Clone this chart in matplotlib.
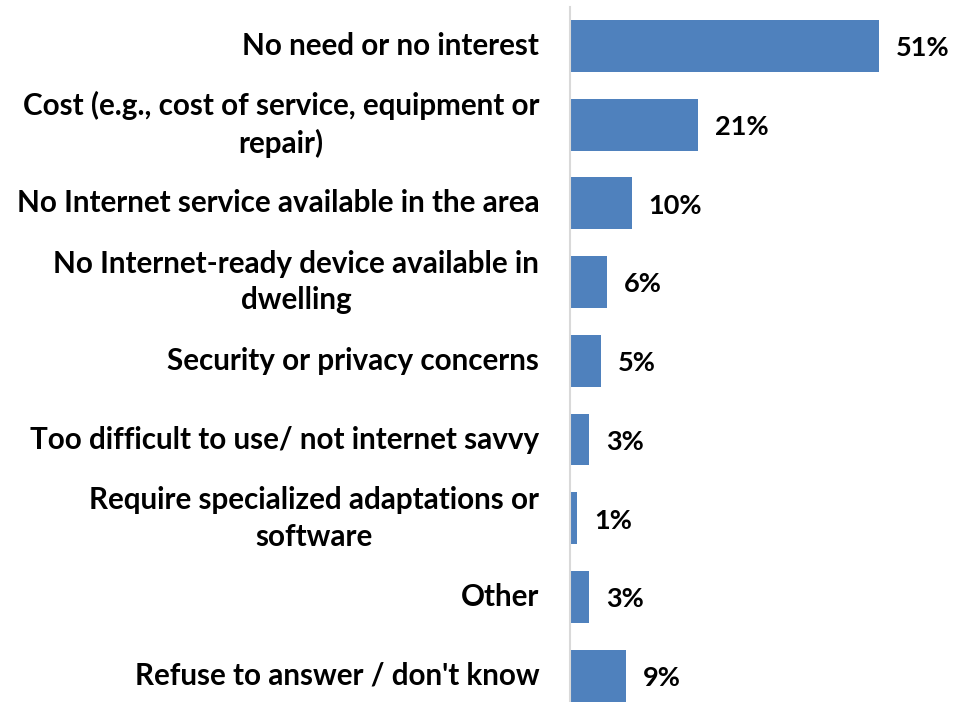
import matplotlib.pyplot as plt

# Reasons for not having internet at home (% of respondents)
reasons = [
    "No need or no interest",
    "Cost (e.g., cost of service, equipment or\nrepair)",
    "No Internet service available in the area",
    "No Internet-ready device available in\ndwelling",
    "Security or privacy concerns",
    "Too difficult to use/ not internet savvy",
    "Require specialized adaptations or\nsoftware",
    "Other",
    "Refuse to answer / don't know",
]
shares = [51, 21, 10, 6, 5, 3, 1, 3, 9]

plt.rcParams['font.family'] = ['Lato', 'DejaVu Sans']

fig = plt.figure(figsize=(9.56, 7.02), dpi=100)
ax = fig.add_axes([570 / 956, -0.0185, 362 / 956, 1.0091])

y = list(range(len(reasons)))
ax.barh(y, shares, height=0.66, color='#4F81BD', left=0.2)

for yi, val in zip(y, shares):
    ax.text(val + 3.0, yi + 0.03, f"{val}%", va='center', ha='left',
            fontsize=19.5, fontweight='bold')

for yi, lab in zip(y, reasons):
    ax.text(-5.1, yi, lab, va='center', ha='right', multialignment='center',
            fontsize=21.3, fontweight='bold', linespacing=1.38)

ax.set_xlim(0, 60)
ax.set_ylim(len(reasons) - 0.5, -0.5)
ax.set_xticks([])
ax.set_yticks([])
for side in ['top', 'right', 'bottom']:
    ax.spines[side].set_visible(False)
ax.spines['left'].set_color('#d9d9d9')
ax.spines['left'].set_linewidth(1.5)

fig.savefig('out.png', dpi=100)
